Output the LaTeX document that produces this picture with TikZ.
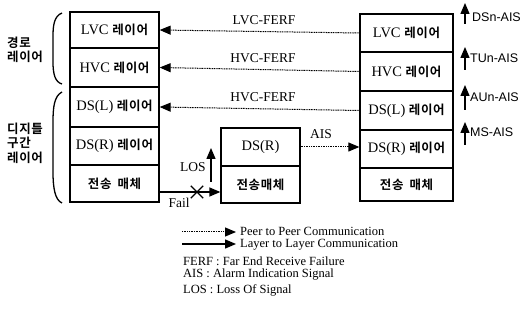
\documentclass[tikz,border=0pt]{standalone}
\usepackage{fontspec}
\setmainfont{Liberation Serif}
\newfontfamily\krfont{Noto Sans CJK KR Bold}[LetterSpace=5]
\newfontfamily\hfont{Liberation Sans}
\usetikzlibrary{arrows.meta,shapes.misc,calc}
\newcommand\ko[1]{{\krfont\fontsize{12.5}{13}\selectfont #1}}
\begin{document}
\begin{tikzpicture}[x=1pt,y=-1pt,
  layer/.style={draw, line width=1.3pt, inner sep=0pt, font=\fontsize{14.5}{15}\selectfont},
  tip/.style={-{Triangle[length=11pt,width=9pt]}},
  peer/.style={tip, line width=1pt, dash pattern=on 1pt off 0.7pt},
  solidarr/.style={tip, line width=1.4pt},
  flab/.style={font=\fontsize{13.5}{14}\selectfont, inner sep=0pt},
  hlab/.style={font=\hfont\fontsize{12.5}{13}\selectfont, inner sep=0pt, anchor=west},
  side/.style={font=\krfont\fontsize{12.5}{14.5}\selectfont, align=left, inner sep=0pt, anchor=west},
  leg/.style={font=\fontsize{12.5}{13}\selectfont, inner sep=0pt, anchor=west},
  brace/.style={line width=1.3pt}
]
\useasboundingbox (0,0) rectangle (525,320);
% left stack
\node[layer, minimum width=89pt, minimum height=36pt] (L1) at (114.5,30) {LVC \ko{레이어}};
\node[layer, minimum width=89pt, minimum height=39pt] (L2) at (114.5,67.5) {HVC \ko{레이어}};
\node[layer, minimum width=89pt, minimum height=40pt] (L3) at (114.5,107) {DS(L) \ko{레이어}};
\node[layer, minimum width=89pt, minimum height=38pt] (L4) at (114.5,146) {DS(R) \ko{레이어}};
\node[layer, minimum width=89pt, minimum height=37pt] (L5) at (114.5,183.5) {\ko{전송}\hspace{6pt}\ko{매체}};
% middle
\node[layer, minimum width=79pt, minimum height=38pt] (M1) at (260.5,147) {DS(R)};
\node[layer, minimum width=79pt, minimum height=37pt] (M2) at (260.5,184.5) {\ko{전송매체}};
% right stack
\node[layer, minimum width=93pt, minimum height=38pt] (R1) at (406.5,33) {LVC \ko{레이어}};
\node[layer, minimum width=93pt, minimum height=39pt] (R2) at (406.5,71.5) {HVC \ko{레이어}};
\node[layer, minimum width=93pt, minimum height=39pt] (R3) at (406.5,110.5) {DS(L) \ko{레이어}};
\node[layer, minimum width=93pt, minimum height=38pt] (R4) at (406.5,149) {DS(R) \ko{레이어}};
\node[layer, minimum width=93pt, minimum height=33pt] (R5) at (406.5,184.5) {\ko{전송}\hspace{6pt}\ko{매체}};
% FERF arrows
\draw[peer] (R1.west) -- (L1.east);
\draw[peer] (R2.west) -- (L2.east);
\draw[peer] (R3.west) -- (L3.east);
\node[flab] (f1) at (264,20) {LVC-FERF};
\node[flab] (f2) at (263,58) {HVC-FERF};
\node[flab] (f3) at (263,97) {HVC-FERF};
% AIS
\draw[peer] (M1.east) -- (R4.west |- M1.east);
\node[flab] (ais) at (321,134) {AIS};
% Fail
\coordinate (fs) at (L5.east |- 0,192);
\coordinate (fe) at (M2.west |- 0,192);
\draw[solidarr] (fs) -- (fe);
\node[cross out, draw, line width=1.3pt, minimum width=11pt, minimum height=11pt, inner sep=0pt] (x) at (197,192) {};
\node[flab] (fail) at (179,203) {Fail};
% LOS
\coordinate (ls) at (211,182);
\coordinate (le) at (211,148);
\draw[solidarr] (ls) -- (le);
\node[flab] (los) at (193,167) {LOS};
% right AIS arrows
\coordinate (a1s) at (465,24); \coordinate (a1e) at (465,3);
\coordinate (a2s) at (465,70); \coordinate (a2e) at (465,47);
\coordinate (a3s) at (465,110); \coordinate (a3e) at (465,85);
\coordinate (a4s) at (465,145); \coordinate (a4e) at (465,122);
\draw[solidarr] (a1s) -- (a1e);
\draw[solidarr] (a2s) -- (a2e);
\draw[solidarr] (a3s) -- (a3e);
\draw[solidarr] (a4s) -- (a4e);
\node[hlab] (t1) at (472,17) {DSn-AIS};
\node[hlab] (t2) at (470,58) {TUn-AIS};
\node[hlab] (t3) at (470,97) {AUn-AIS};
\node[hlab] (t4) at (470,132) {MS-AIS};
% braces
\draw[brace] (62,13) .. controls (54,16) and (53,26) .. (53,36) -- (53,62) .. controls (53,74) and (55,82) .. (62,84);
\draw[brace] (62,92) .. controls (54,96) and (53,108) .. (53,122) -- (53,172) .. controls (53,188) and (55,200) .. (62,203);
\node[side] (s1) at (7,50) {경로\\레이어};
\node[side] (s2) at (7,143) {디지틀\\구간\\레이어};
% legend
\coordinate (p1) at (182,232); \coordinate (p2) at (236,232);
\coordinate (q1) at (182,244); \coordinate (q2) at (236,244);
\draw[peer] (p1) -- (p2);
\draw[solidarr] (q1) -- (q2);
\node[leg] (lg1) at (240,231.5) {Peer to Peer Communication};
\node[leg] (lg2) at (240,245) {Layer to Layer Communication};
\node[leg] (lg3) at (183,261) {FERF : Far End Receive Failure};
\node[leg] (lg4) at (183,275) {AIS : Alarm Indication Signal};
\node[leg] (lg5) at (183,290) {LOS : Loss Of Signal};
\end{tikzpicture}
\end{document}
